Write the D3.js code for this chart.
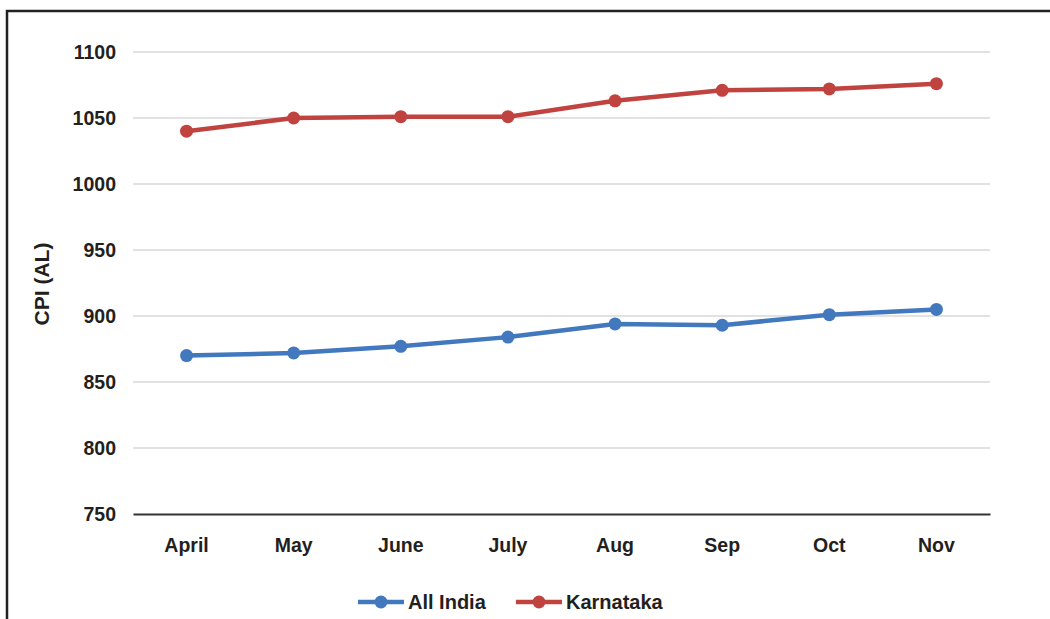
<!DOCTYPE html>
<html>
<head>
<meta charset="utf-8">
<script src="https://cdn.jsdelivr.net/npm/d3@7"></script>
<style>
  html, body { margin: 0; padding: 0; background: #fff; }
  svg { display: block; font-family: "Liberation Sans", Arial, sans-serif; }
</style>
</head>
<body>
<svg id="chart" width="1050" height="619"></svg>
<script>
// Monthly CPI (AL) readings
const months = ["April", "May", "June", "July", "Aug", "Sep", "Oct", "Nov"];
const allIndia = [870, 872, 877, 884, 894, 893, 901, 905];
const karnataka = [1040, 1050, 1051, 1051, 1063, 1071, 1072, 1076];
const yTicks = [750, 800, 850, 900, 950, 1000, 1050, 1100];

const seriesList = [
  { name: "All India", values: allIndia, color: "#4178BE" },
  { name: "Karnataka", values: karnataka, color: "#C0433F" }
];

const svg = d3.select("#chart");
const plot = { left: 133, right: 990, top: 52, bottom: 514 };

// Outer frame
svg.append("rect")
  .attr("x", 7).attr("y", 11)
  .attr("width", 1100).attr("height", 700)
  .attr("fill", "none")
  .attr("stroke", "#222")
  .attr("stroke-width", 2.5);

const x = d3.scaleBand().domain(months).range([plot.left, plot.right]);
const y = d3.scaleLinear().domain([750, 1100]).range([plot.bottom, plot.top]);

// Gridlines
svg.append("g")
  .selectAll("line")
  .data(yTicks.filter(t => t !== 750))
  .join("line")
  .attr("x1", plot.left).attr("x2", plot.right)
  .attr("y1", d => y(d)).attr("y2", d => y(d))
  .attr("stroke", "#d9d9d9")
  .attr("stroke-width", 1.6);

// Y axis labels
const yAxis = svg.append("g")
  .attr("transform", `translate(${plot.left},0)`)
  .call(d3.axisLeft(y).tickValues(yTicks).tickFormat(d3.format("d")).tickSize(0).tickPadding(17));
yAxis.select(".domain").remove();
yAxis.selectAll("text")
  .attr("font-size", 19.5).attr("font-weight", "bold").attr("fill", "#231f20")
  .attr("font-family", "Liberation Sans, Arial, sans-serif");

// X axis
const xAxis = svg.append("g")
  .attr("transform", `translate(0,${plot.bottom})`)
  .call(d3.axisBottom(x).tickSize(0).tickPadding(24));
xAxis.select(".domain")
  .attr("stroke", "#333").attr("stroke-width", 2);
xAxis.selectAll("text")
  .attr("font-size", 19.5).attr("font-weight", "bold").attr("fill", "#231f20")
  .attr("font-family", "Liberation Sans, Arial, sans-serif");

// Y axis title
svg.append("text")
  .attr("transform", `translate(49,284) rotate(-90)`)
  .attr("text-anchor", "middle")
  .attr("font-size", 21).attr("font-weight", "bold").attr("fill", "#231f20")
  .text("CPI (AL)");

// Lines and markers
const line = d3.line()
  .x((d, i) => x(months[i]) + x.bandwidth() / 2)
  .y(d => y(d));

seriesList.forEach(s => {
  svg.append("path")
    .datum(s.values)
    .attr("d", line)
    .attr("fill", "none")
    .attr("stroke", s.color)
    .attr("stroke-width", 4.5)
    .attr("stroke-linejoin", "round");
  svg.append("g")
    .selectAll("circle")
    .data(s.values)
    .join("circle")
    .attr("cx", (d, i) => x(months[i]) + x.bandwidth() / 2)
    .attr("cy", d => y(d))
    .attr("r", 6.5)
    .attr("fill", s.color);
});

// Legend
const legendItems = [
  { name: "All India", color: "#4178BE", x0: 358 },
  { name: "Karnataka", color: "#C0433F", x0: 516 }
];
const legendY = 602;
legendItems.forEach(item => {
  const g = svg.append("g");
  g.append("line")
    .attr("x1", item.x0).attr("x2", item.x0 + 46)
    .attr("y1", legendY).attr("y2", legendY)
    .attr("stroke", item.color).attr("stroke-width", 4.5);
  g.append("circle")
    .attr("cx", item.x0 + 23).attr("cy", legendY).attr("r", 6.5)
    .attr("fill", item.color);
  g.append("text")
    .attr("x", item.x0 + 50).attr("y", legendY)
    .attr("dy", "0.35em")
    .attr("font-size", 20).attr("font-weight", "bold").attr("fill", "#231f20")
    .text(item.name);
});
</script>
</body>
</html>
